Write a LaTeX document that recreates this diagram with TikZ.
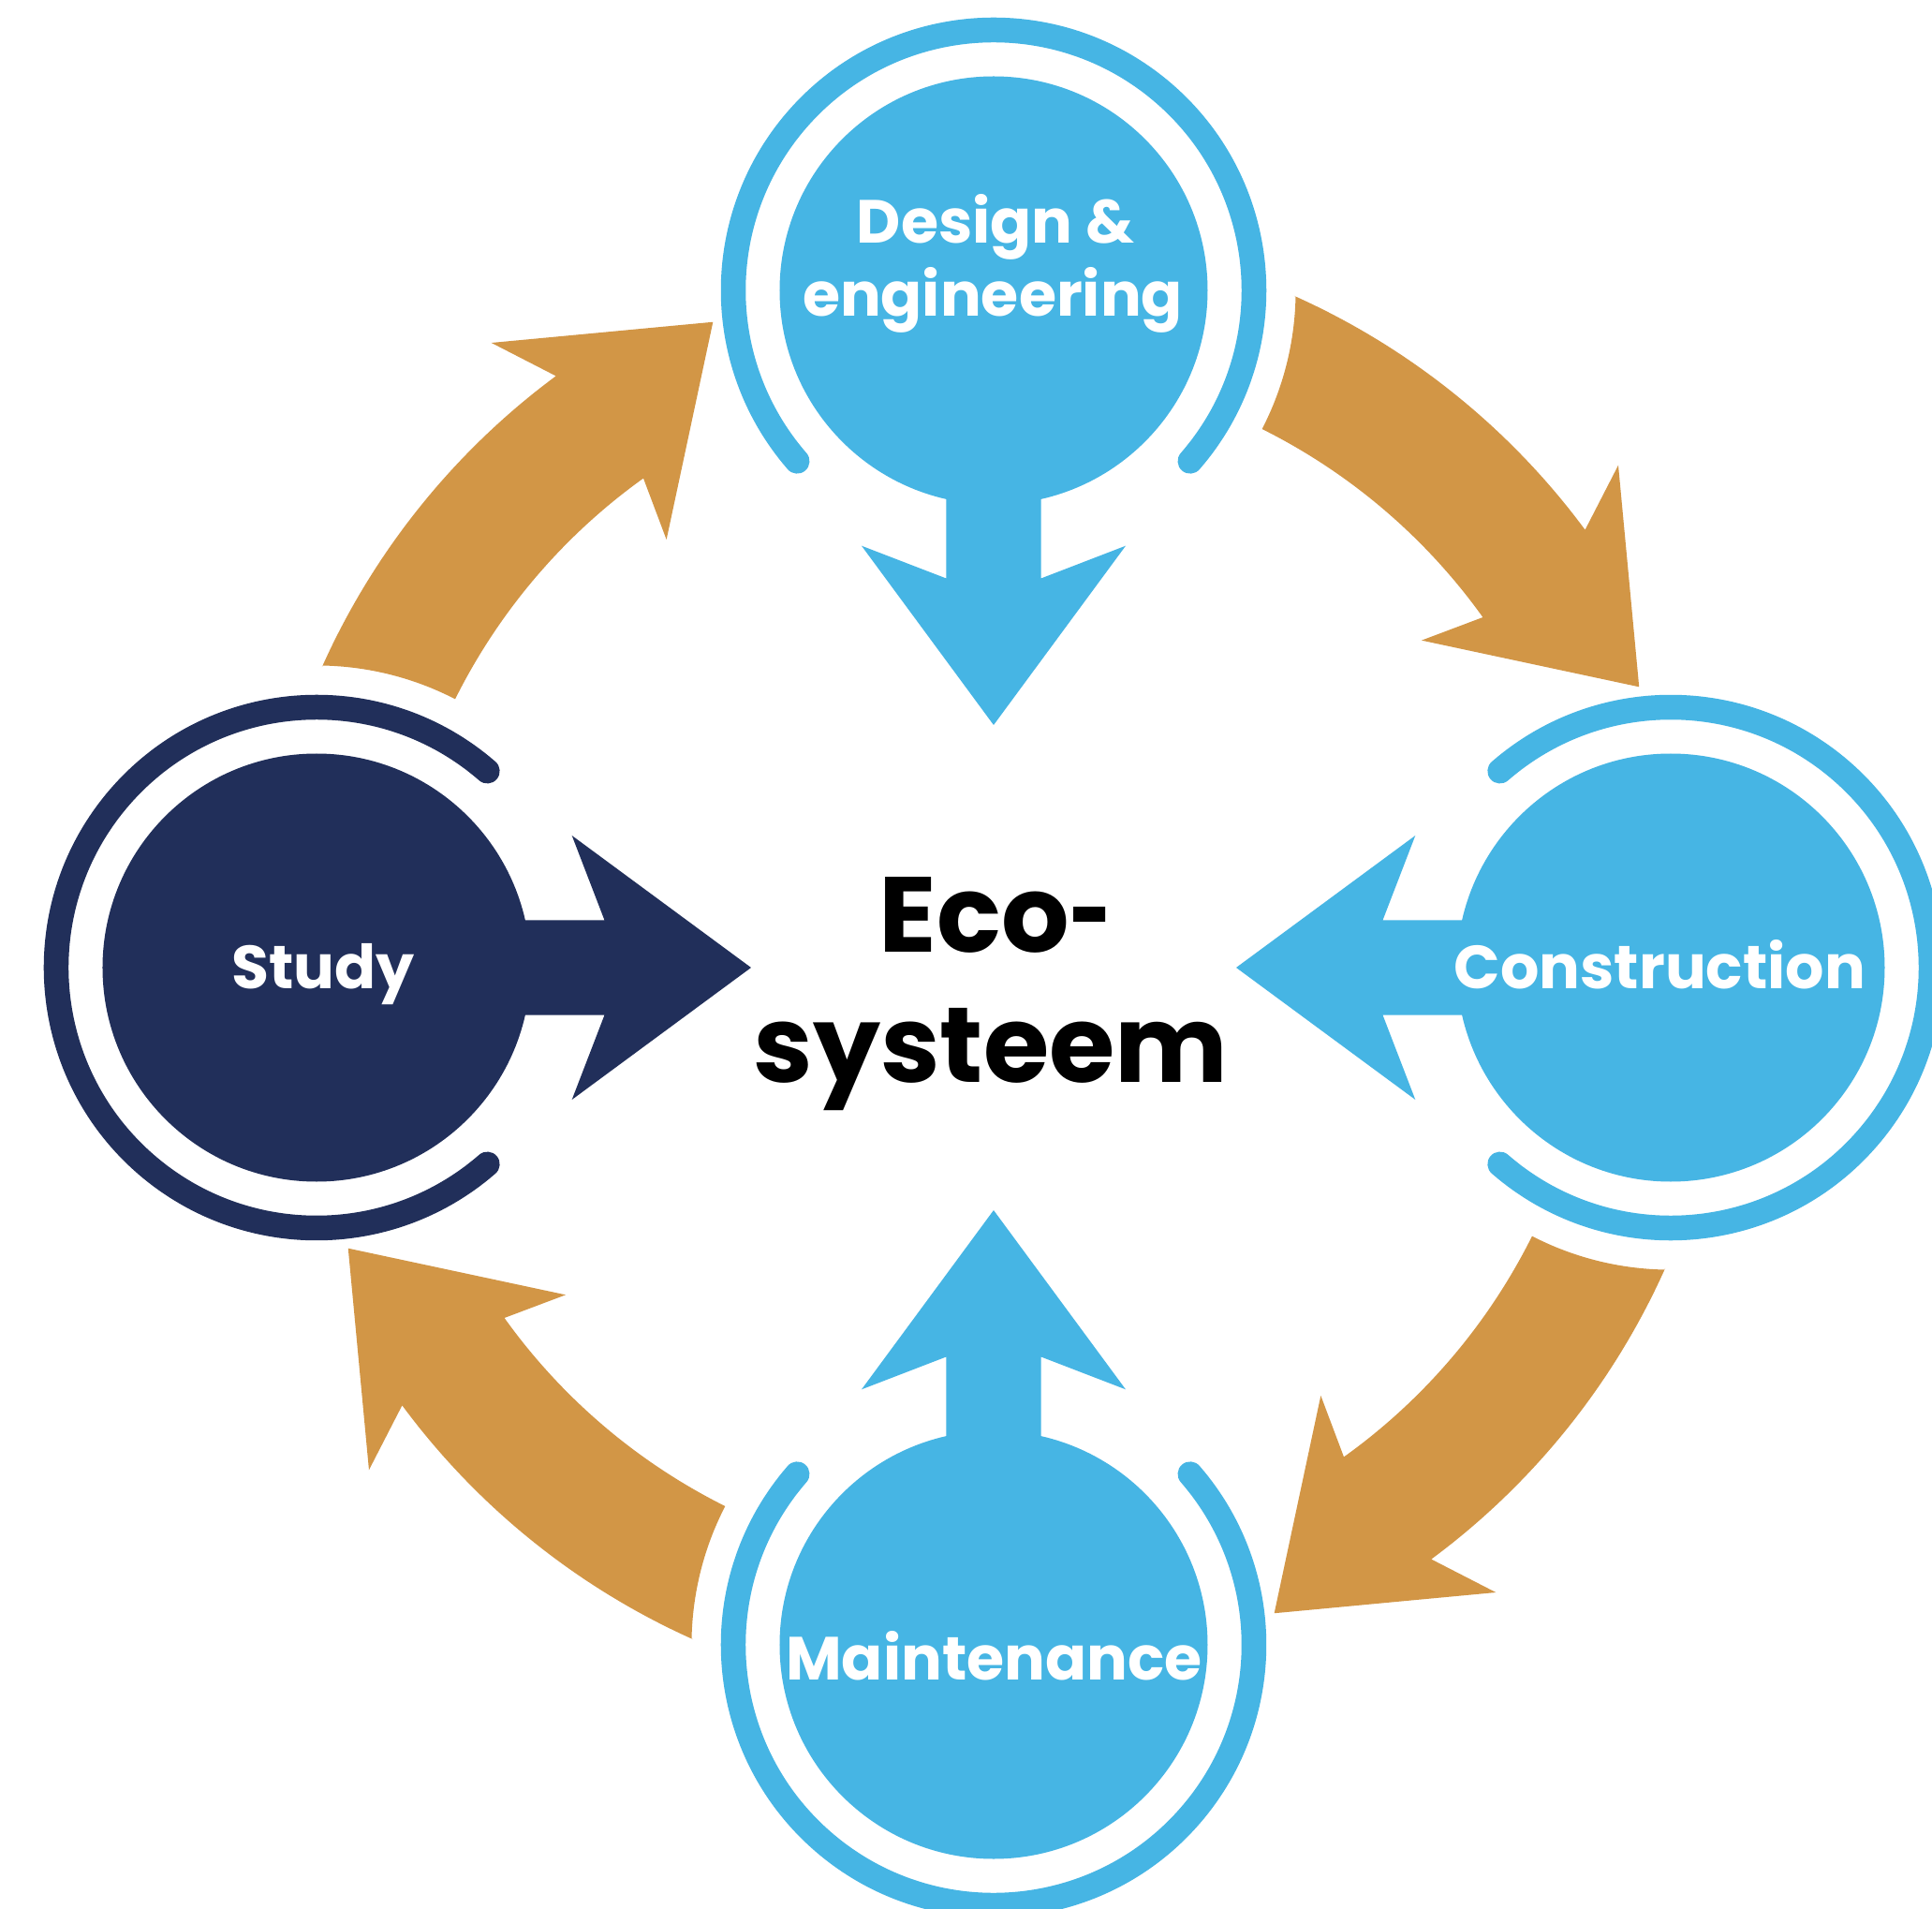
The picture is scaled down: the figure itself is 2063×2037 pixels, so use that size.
\documentclass[tikz,border=0pt]{standalone}
\usepackage{fontspec}
\usepackage{graphicx}
\setmainfont{Poppins}
\definecolor{cblue}{HTML}{46B5E4}
\definecolor{cnavy}{HTML}{212F5A}
\definecolor{corange}{HTML}{D29646}
\begin{document}
\begin{tikzpicture}[x=1pt,y=1pt,
  disc/.style={circle, minimum size=457pt, inner sep=0pt, draw=none},
  ringarc/.style={line width=26.5pt, line cap=round},
  stagelabel/.style={font=\fontsize{65}{78}\selectfont\bfseries, text=white, inner sep=0pt, anchor=base},
  ecotext/.style={font=\fontsize{114}{138}\selectfont\bfseries, text=black, inner sep=0pt, anchor=base},
  flow/.style={fill=corange},
  toward/.style={fill=#1}
]
\useasboundingbox (-1061,-1004) rectangle (1002,1033);
\clip (-1061,-1004) rectangle (1002,1033);
\fill[white] (-1061,-1004) rectangle (1002,1033);

% curved orange arrows (clockwise cycle)
\foreach \r in {0,-90,-180,-270}{
  \fill[flow] (155.9+\r:785.7) arc[start angle=155.9+\r, end angle=126.5+\r, radius=785.7]
    -- (128.8+\r:855.9) -- (113.5+\r:751.6) -- (127.4+\r:575.2) -- (125.6+\r:642.5)
    arc[start angle=125.6+\r, end angle=153.5+\r, radius=642.5]
    arc[start angle=62.7+\r, end angle=88.9+\r, radius=322] -- cycle;
}

% discs
\node[disc, fill=cblue] (design) at (0,723) {};
\node[disc, fill=cnavy] (study) at (-723,0) {};
\node[disc, fill=cblue] (construction) at (723,0) {};
\node[disc, fill=cblue] (maintenance) at (0,-723) {};

% rings and arrows toward the centre
\foreach \n/\d/\c in {design/270/cblue, study/0/cnavy, construction/180/cblue, maintenance/90/cblue}{
  \draw[ringarc, \c] (\n.center) ++(\d+49:278) arc[start angle=\d+49, end angle=\d+311, radius=278];
  \begin{scope}[shift={(\n.center)}, rotate=\d]
    \fill[toward=\c] (0,50.6) -- (307.5,50.6) -- (272.7,141) -- (464,0) -- (272.7,-141) -- (307.5,-50.6) -- (0,-50.6) -- cycle;
  \end{scope}
}

% labels
\node[stagelabel] (tdesign1) at (2,773) {Design \&};
\node[stagelabel] (tdesign2) at (-1,695.5) {engineering};
\node[stagelabel] (tstudy) at (-716,-22) {Study};
\node[stagelabel] (tconstr) at (711.5,-22) {Construction};
\node[stagelabel] (tmaint) at (0.4,-760) {Maintenance};
\node[ecotext] (eco1) at (2,16.3) {Eco\scalebox{0.68}[1]{-}};
\node[ecotext] (eco2) at (-3,-122) {systeem};
\end{tikzpicture}
\end{document}
